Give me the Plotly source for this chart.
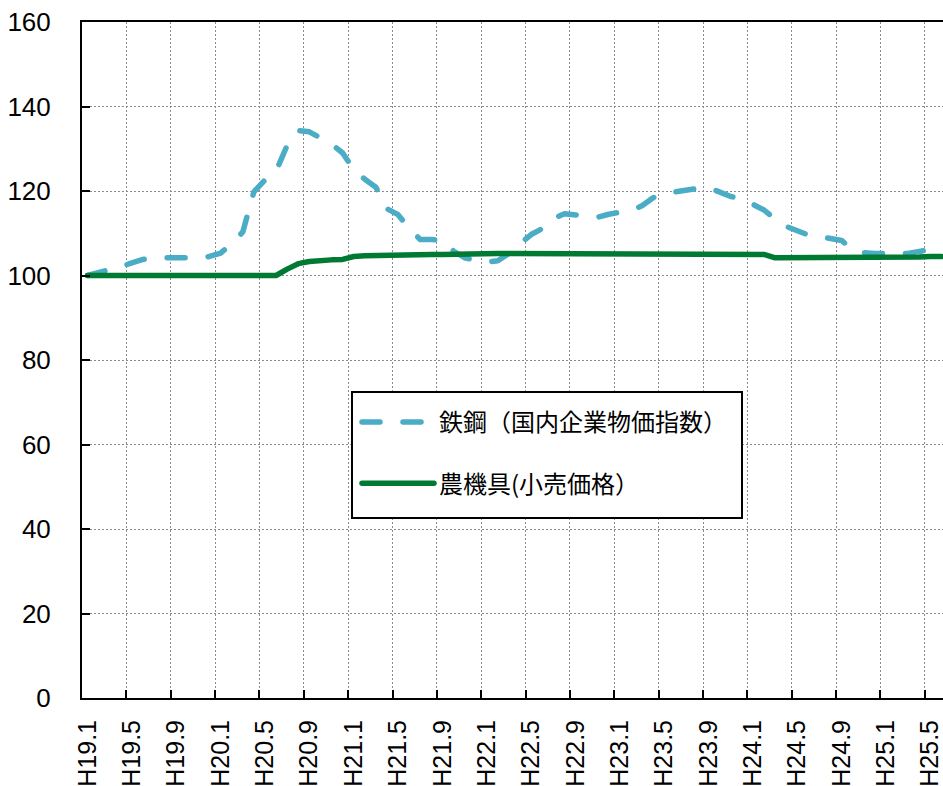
import plotly.graph_objects as go

# Monthly categories H19.1 .. H25.6
years = [19, 20, 21, 22, 23, 24, 25]
months = list(range(1, 13))
categories = [f"H{y}.{m}" for y in years for m in months][:78]

# 鉄鋼（国内企業物価指数）, H19.1 = 100
steel = [
    100.0, 100.6, 101.3, 102.1, 103.0, 103.8, 104.2, 104.3, 104.3, 104.2,
    104.2, 104.5, 105.3, 107.5, 110.3, 119.8, 122.6, 124.7, 130.8, 134.3,
    134.0, 132.7, 131.1, 129.0, 125.1, 122.8, 120.9, 115.8, 114.4, 111.2,
    108.5, 108.5, 108.4, 105.8, 104.2, 103.6, 103.2, 103.5, 105.2, 107.5,
    109.7, 111.1, 113.5, 114.6, 114.4, 114.1, 113.8, 114.5, 115.0, 115.4,
    116.5, 118.4, 119.4, 119.9, 120.4, 120.6, 120.8, 119.8, 118.7, 118.2,
    116.7, 115.5, 113.3, 111.6, 110.6, 109.6, 109.2, 108.9, 108.3, 106.0,
    105.4, 105.2, 105.1, 105.1, 105.2, 105.7, 106.2, 106.5,
]

# 農機具（小売価格）, H19.1 = 100
machinery = [
    100.0, 100.0, 100.0, 99.9, 99.9, 100.0, 99.9, 99.9, 100.0, 99.9,
    99.9, 99.9, 99.9, 99.9, 99.9, 99.9, 100.0, 100.0, 101.5, 102.8,
    103.3, 103.6, 103.7, 103.8, 104.5, 104.7, 104.8, 104.8, 104.8, 104.9,
    104.9, 105.0, 105.0, 105.1, 105.1, 105.2, 105.2, 105.2, 105.2, 105.2,
    105.2, 105.2, 105.2, 105.2, 105.2, 105.2, 105.1, 105.1, 105.1, 105.1,
    105.1, 105.1, 105.1, 105.1, 105.1, 105.1, 105.1, 105.1, 105.1, 105.1,
    105.1, 105.0, 104.2, 104.2, 104.3, 104.3, 104.2, 104.1, 104.1, 104.2,
    104.2, 104.2, 104.3, 104.3, 104.3, 104.4, 104.5, 104.5,
]

series_names = ["鉄鋼（国内企業物価指数）", "農機具(小売価格）"]
y_ticks = [0, 20, 40, 60, 80, 100, 120, 140, 160]

fig = go.Figure()
fig.add_trace(go.Scatter(
    x=categories, y=steel, mode="lines", name=series_names[0],
    legendgroup="a",
    line=dict(color="#4BACC6", width=5.5, dash="18px,23px"),
))
fig.add_trace(go.Scatter(
    x=categories, y=machinery, mode="lines", name=series_names[1],
    legendgroup="b",
    line=dict(color="#007A33", width=5.5),
))

grid = dict(showgrid=True, gridcolor="#8a8a8a", gridwidth=1, griddash="2px,2px")

# legend frame (white box with black border), in paper coordinates
fig.add_shape(
    type="rect", xref="paper", yref="paper",
    x0=(352 - 82) / 861, x1=(742 - 82) / 861,
    y0=(698 - 518) / 676, y1=(698 - 392) / 676,
    line=dict(color="black", width=2), fillcolor="white", layer="above",
)

fig.update_layout(
    width=943, height=786,
    margin=dict(l=82, r=0, t=22, b=88),
    paper_bgcolor="white", plot_bgcolor="white",
    font=dict(family="Liberation Sans, Arial, sans-serif", size=25, color="black"),
    xaxis=dict(
        type="category", categoryorder="array", categoryarray=categories,
        range=[-0.5, 77.14], tickmode="linear", tick0=0, dtick=4,
        tickson="boundaries", tickangle=-90, ticklabelstandoff=10,
        ticks="inside", ticklen=8, tickwidth=2, tickcolor="black",
        showline=True, linecolor="black", linewidth=2, mirror=True,
        zeroline=False, tickfont=dict(size=25), **grid,
    ),
    yaxis=dict(
        range=[0, 160], tickvals=y_ticks, ticklabelstandoff=24,
        ticks="inside", ticklen=8, tickwidth=2, tickcolor="black",
        showline=True, linecolor="black", linewidth=2,
        zeroline=False, tickfont=dict(size=26), **grid,
    ),
    legend=dict(
        x=(357 - 82) / 861, y=(698 - 400) / 676, xanchor="left", yanchor="top",
        bgcolor="rgba(0,0,0,0)", borderwidth=0,
        font=dict(family="Noto Sans CJK JP", size=24, color="black"),
        tracegroupgap=27, itemwidth=72, traceorder="grouped",
    ),
    showlegend=True,
)

# rounded caps on the series strokes
post = (
    "document.querySelectorAll('path.js-line').forEach(function(p){"
    "p.style.strokeLinecap='round';p.style.strokeLinejoin='round';});"
)
fig.write_html("out.html", post_script=post)
